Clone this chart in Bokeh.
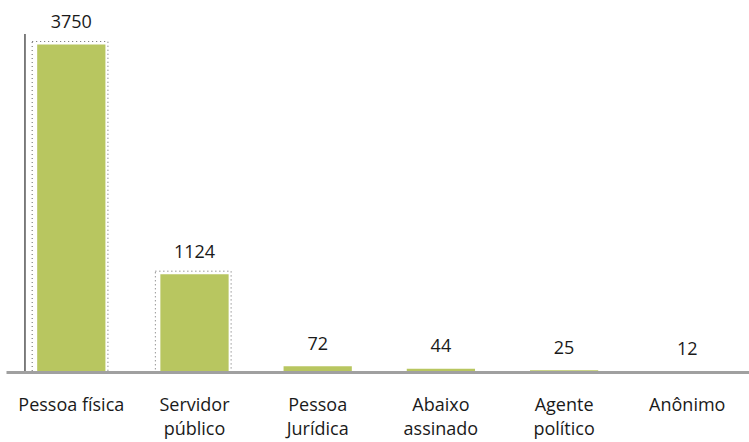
from bokeh.plotting import figure
from bokeh.models import Range1d, ColumnDataSource
from bokeh.embed import file_html
from bokeh.resources import INLINE
from bokeh.core.properties import value

categories = ["Pessoa física", "Servidor\npúblico", "Pessoa\nJurídica", "Abaixo\nassinado", "Agente\npolítico", "Anônimo"]
counts = [3750, 1124, 72, 44, 25, 12]

xs = list(range(len(categories)))
bar_w = 0.554
px_x = 123.2          # pixels per category
px_y = 0.08747        # pixels per unit

p = figure(width=749, height=442, output_backend="svg", toolbar_location=None,
           x_range=Range1d(-0.526, 5.505), y_range=Range1d(0, 372 / px_y),
           min_border_left=6, min_border_right=0, min_border_top=0, min_border_bottom=70)
p.outline_line_color = None
p.grid.visible = False
p.yaxis.visible = False
p.background_fill_color = "white"

src = ColumnDataSource(dict(x=xs, top=counts, label=[str(c) for c in counts]))

# dotted shadow frames
big = [i for i, c in enumerate(counts) if c > 500]
dx_l = 5 / px_x
dx_r = 2.5 / px_x
dy = 3 / px_y
p.quad(left=[xs[i] - bar_w / 2 - dx_l for i in big], right=[xs[i] + bar_w / 2 + dx_r for i in big],
       bottom=[0] * len(big), top=[counts[i] + dy for i in big],
       fill_color=None, line_color="#666666", line_dash="1 3", line_width=1)

p.vbar(x="x", top="top", width=bar_w, bottom=0, source=src,
       fill_color="#b8c660", line_color=None)

# vertical black line
p.segment(x0=[-0.376], x1=[-0.376], y0=[-30], y1=[3870], line_color="black", line_width=1)

p.text(x="x", y="top", text="label", source=src, y_offset=-23,
       text_align="center", text_baseline="alphabetic",
       text_font=value("Open Sans"), text_font_size="18px", text_color="#1a1a1a")

p.xaxis.ticker = xs
p.xaxis.major_label_overrides = {i: c for i, c in enumerate(categories)}
p.xaxis.axis_line_color = "#a0a0a0"
p.xaxis.axis_line_width = 3
p.xaxis.major_tick_line_color = None
p.xaxis.minor_tick_line_color = None
p.xaxis.major_label_standoff = 13
p.xaxis.major_label_text_line_height = 1.0
p.xaxis.major_label_text_font = "Open Sans"
p.xaxis.major_label_text_font_size = "18px"
p.xaxis.major_label_text_color = "#1a1a1a"

open("out.html", "w").write(file_html(p, INLINE))
